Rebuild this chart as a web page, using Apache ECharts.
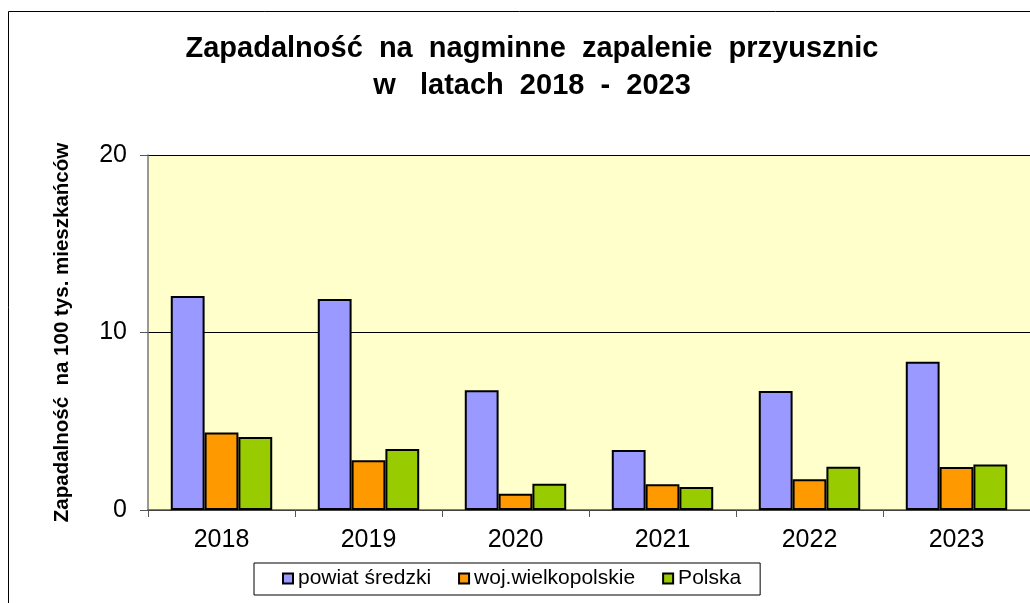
<!DOCTYPE html>
<html>
<head>
<meta charset="utf-8">
<script src="https://cdn.jsdelivr.net/npm/echarts@6/dist/echarts.min.js"></script>
<style>
  html, body { margin: 0; padding: 0; background: #fff; }
  #chart { width: 1030px; height: 603px; }
</style>
</head>
<body>
<div id="chart"></div>
<script>
// dane
var years = ['2018', '2019', '2020', '2021', '2022', '2023'];
var powiat = [12.06, 11.89, 6.75, 3.38, 6.70, 8.35];
var wojewodztwo = [4.37, 2.80, 0.92, 1.45, 1.73, 2.42];
var polska = [4.11, 3.43, 1.48, 1.29, 2.44, 2.57];
var yTicks = [0, 10, 20];

var chart = echarts.init(document.getElementById('chart'));

function barSeries(name, data, color) {
    return {
        name: name,
        type: 'bar',
        data: data,
        barGap: '0%',
        barCategoryGap: '31%',
        itemStyle: {
            color: color,
            borderColor: '#000',
            borderWidth: 2
        }
    };
}

var option = {
    backgroundColor: '#fff',
    animation: false,
    title: {
        text: 'Zapadalność  na  nagminne  zapalenie  przyusznic\nw   latach  2018  -  2023',
        left: 527,
        textAlign: 'center',
        top: 25,
        textStyle: {
            fontFamily: 'Liberation Sans',
            fontWeight: 'bold',
            fontSize: 29,
            lineHeight: 37,
            color: '#000'
        }
    },
    graphic: [{
        type: 'rect',
        shape: { x: 8.5, y: 11.5, width: 1040, height: 620 },
        style: { fill: 'none', stroke: '#000', lineWidth: 1 },
        z: 100
    }],
    legend: {
        data: ['powiat średzki', 'woj.wielkopolskie', 'Polska'],
        left: 254,
        top: 563,
        icon: 'rect',
        itemWidth: 10,
        itemHeight: 10,
        itemGap: 27,
        padding: [5, 19, 6, 28],
        borderColor: '#000',
        borderWidth: 1,
        textStyle: {
            fontFamily: 'Liberation Sans',
            fontSize: 21,
            color: '#000'
        }
    },
    grid: {
        left: 148,
        top: 155,
        width: 890,
        height: 355,
        show: true,
        backgroundColor: '#FFFFCC',
        borderWidth: 0
    },
    xAxis: {
        type: 'category',
        data: years,
        axisLine: { lineStyle: { color: '#555', width: 1.5 } },
        axisTick: { show: true, length: 7, lineStyle: { color: '#555' } },
        axisLabel: {
            fontFamily: 'Liberation Sans',
            fontSize: 25,
            color: '#000',
            margin: 18
        }
    },
    yAxis: {
        type: 'value',
        min: yTicks[0],
        max: yTicks[yTicks.length - 1],
        interval: 10,
        name: 'Zapadalność  na 100 tys. mieszkańców',
        nameLocation: 'middle',
        nameGap: 75,
        nameRotate: 90,
        nameTextStyle: {
            fontFamily: 'Liberation Sans',
            fontWeight: 'bold',
            fontSize: 20.5,
            color: '#000'
        },
        axisLine: { show: true, lineStyle: { color: '#777', width: 1.5 } },
        axisTick: { show: true, length: 8, lineStyle: { color: '#555' } },
        axisLabel: {
            fontFamily: 'Liberation Sans',
            fontSize: 25,
            color: '#000',
            margin: 21
        },
        splitLine: { show: true, lineStyle: { color: '#000', width: 1 } }
    },
    series: [
        barSeries('powiat średzki', powiat, '#9999FF'),
        barSeries('woj.wielkopolskie', wojewodztwo, '#FF9900'),
        barSeries('Polska', polska, '#99CC00')
    ]
};

chart.setOption(option);
</script>
</body>
</html>
